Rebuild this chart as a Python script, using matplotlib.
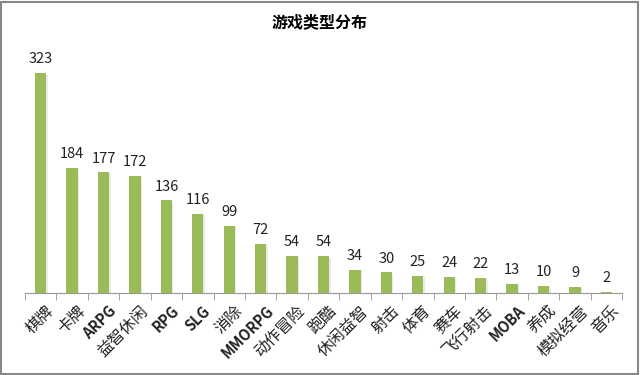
import matplotlib
matplotlib.use('Agg')
import matplotlib.pyplot as plt
import matplotlib.patheffects as pe
import numpy as np

plt.rcParams['font.family'] = ['Noto Sans CJK SC', 'DejaVu Sans']

# 游戏类型
categories = ['棋牌', '卡牌', 'ARPG', '益智休闲', 'RPG', 'SLG', '消除', 'MMORPG',
              '动作冒险', '跑酷', '休闲益智', '射击', '体育', '赛车', '飞行射击',
              'MOBA', '养成', '模拟经营', '音乐']
counts = [323, 184, 177, 172, 136, 116, 99, 72, 54, 54, 34, 30, 25, 24, 22, 13, 10, 9, 2]
title = '游戏类型分布'

fig = plt.figure(figsize=(6.4, 3.75), dpi=100)
ax = fig.add_axes([0.039, 0.219, 0.933, 0.635])

x = np.arange(len(categories))
bars = ax.bar(x, counts, width=0.36, color='#9BBB59', zorder=3)
# 軽い影
for b in bars:
    b.set_path_effects([pe.SimplePatchShadow(offset=(1, -1), shadow_rgbFace='#cccccc', alpha=0.4), pe.Normal()])

for xi, v in zip(x, counts):
    ax.text(xi, v + 10, str(v), ha='center', va='bottom', fontsize=10.5, color='#222222')

ax.set_xlim(-0.5, len(categories) - 0.5)
ax.set_ylim(0, 350)
ax.set_yticks([])
for s in ['top', 'right', 'left']:
    ax.spines[s].set_visible(False)
ax.spines['bottom'].set_color('#999999')

ax.set_xticks(x + 0.15)
ax.set_xticklabels(categories, rotation=45, ha='right', rotation_mode='anchor', fontsize=11.5, color='#222222')
for lbl in ax.get_xticklabels():
    if lbl.get_text().isascii():
        lbl.set_fontweight('semibold')
        lbl.set_fontsize(10.5)
ax.tick_params(axis='x', which='major', length=0, pad=7)
ax.set_xticks(np.arange(-0.5, len(categories)), minor=True)
ax.tick_params(axis='x', which='minor', length=5, color='#999999')

fig.text(0.5, 0.94, title, ha='center', va='center', fontsize=11.5, fontweight='bold')

# 外枠
fig.patches.append(plt.Rectangle((0.002, 0.003), 0.995, 0.993, transform=fig.transFigure,
                                 fill=False, edgecolor='#888888', linewidth=1.5))

fig.savefig('out.png', dpi=100)
